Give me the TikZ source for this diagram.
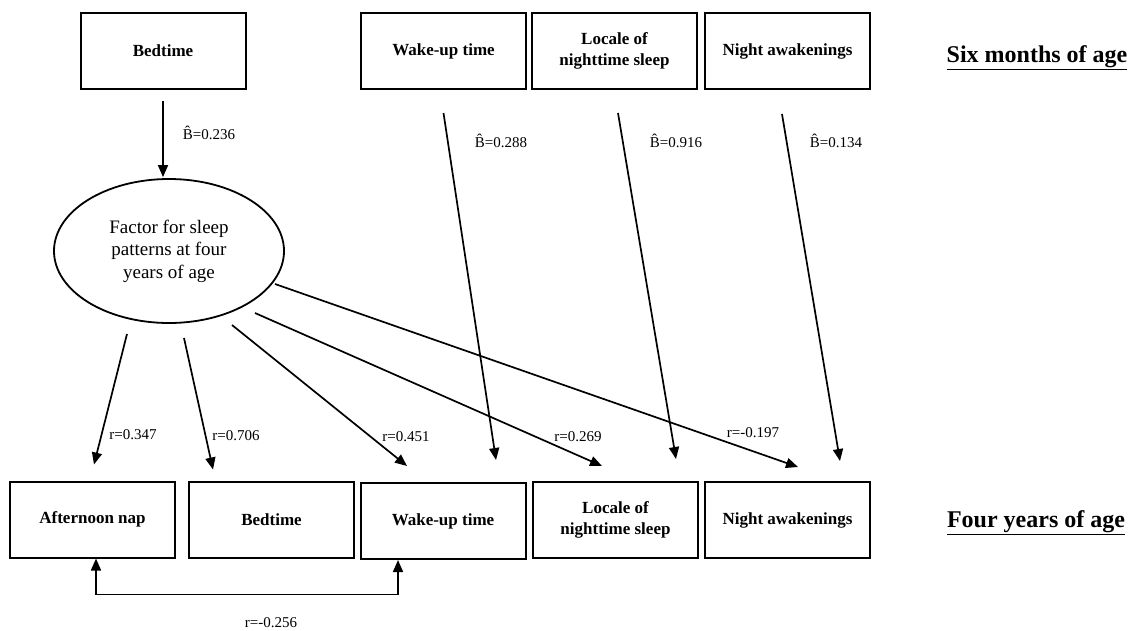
\documentclass[tikz,border=0pt]{standalone}
\usepackage{fontspec}
\setmainfont{Liberation Serif}
\usetikzlibrary{shapes.geometric}
\usetikzlibrary{arrows.meta}

\begin{document}
\begin{tikzpicture}[x=1pt,y=-1pt,
    box/.style={draw,line width=2pt,minimum width=165pt,minimum height=76pt,inner sep=0pt,align=center,font=\fontsize{17}{21}\selectfont\bfseries},
    factor/.style={draw,ellipse,line width=1.8pt,minimum width=230pt,minimum height=144pt,inner sep=0pt,align=center,font=\fontsize{19}{22.5}\selectfont},
    arr/.style={line width=1.7pt,-{Triangle[length=12pt,width=10pt]}},
    coef/.style={font=\fontsize{15}{18}\selectfont,inner sep=0pt},
    agelabel/.style={font=\fontsize{24}{28}\selectfont\bfseries,inner sep=0pt,anchor=base}]
    \useasboundingbox (0,0) rectangle (1132,630);

    % six months of age
    \node[box] (tbed)   at (163,51)   {Bedtime};
    \node[box] (twake)  at (443.5,51) {Wake-up time};
    \node[box] (tloc)   at (614.5,51) {Locale of\\nighttime sleep};
    \node[box] (tnight) at (787.5,51) {Night awakenings};
    \node[agelabel] (tsix) at (1037,62) {\underline{Six months of age}};

    % latent factor
    \node[factor] (fac) at (169,251) {Factor for sleep\\patterns at four\\years of age};

    % four years of age
    \node[box] (bnap)   at (92.5,519.5)  {Afternoon nap};
    \node[box] (bbed)   at (271.5,519.5) {Bedtime};
    \node[box] (bwake)  at (443,521)     {Wake-up time};
    \node[box] (bloc)   at (615.5,520)   {Locale of\\nighttime sleep};
    \node[box] (bnight) at (787.5,520)   {Night awakenings};
    \node[agelabel] (tfour) at (1036,527) {\underline{Four years of age}};

    % paths from six months
    \draw[arr] ([yshift=-11pt]tbed.south) -- ([xshift=-6pt,yshift=1pt]fac.north);
    \draw[arr] ([yshift=-23pt]twake.south) -- ([xshift=53pt,yshift=22pt]bwake.north);
    \draw[arr] ([xshift=3.5pt,yshift=-23pt]tloc.south) -- ([xshift=60.5pt,yshift=22pt]bloc.north);
    \draw[arr] ([xshift=-5.5pt,yshift=-24pt]tnight.south) -- ([xshift=52.5pt,yshift=20pt]bnight.north);

    \node[coef] (b1) at (209,133) {\^{B}=0.236};
    \node[coef] (b2) at (501,141) {\^{B}=0.288};
    \node[coef] (b3) at (676,141) {\^{B}=0.916};
    \node[coef] (b4) at (836,141) {\^{B}=0.134};

    % loadings
    \draw[arr] ([xshift=-42pt,yshift=-83pt]fac.center) -- ([xshift=1.5pt,yshift=16pt]bnap.north);
    \draw[arr] ([xshift=15pt,yshift=-87pt]fac.center) -- ([xshift=-58.5pt,yshift=11pt]bbed.north);
    \draw[arr] ([xshift=63pt,yshift=-74pt]fac.center) -- ([xshift=-36pt,yshift=16pt]bwake.north);
    \draw[arr] ([xshift=86pt,yshift=-62pt]fac.center) -- ([xshift=-13.5pt,yshift=15pt]bloc.north);
    \draw[arr] ([xshift=106pt,yshift=-33pt]fac.center) -- ([xshift=10.5pt,yshift=14pt]bnight.north);

    \node[coef] (r1) at (133,435) {r=0.347};
    \node[coef] (r2) at (236,436) {r=0.706};
    \node[coef] (r3) at (406,437) {r=0.451};
    \node[coef] (r4) at (578,437) {r=0.269};
    \node[coef] (r5) at (753,433) {r=-0.197};

    % correlation
    \draw[line width=1.7pt,{Triangle[length=12pt,width=10pt]}-{Triangle[length=12pt,width=10pt]}]
        ([xshift=3.5pt]bnap.south) -- ++(0,36) -| ([xshift=-45pt]bwake.south);
    \node[coef] (r6) at (271,623) {r=-0.256};
\end{tikzpicture}
\end{document}
